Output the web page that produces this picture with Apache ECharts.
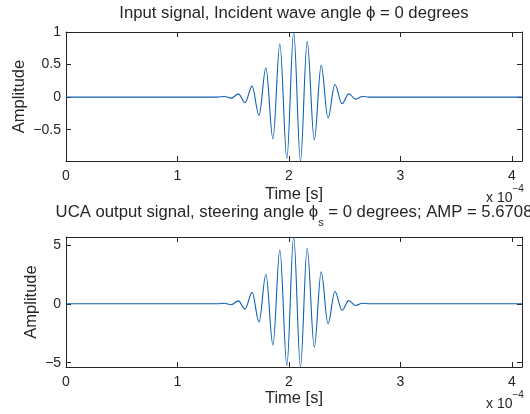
<!DOCTYPE html>
<html>
<head>
<meta charset="utf-8">
<script src="https://cdn.jsdelivr.net/npm/echarts@6/dist/echarts.min.js"></script>
<style>
  html, body { margin: 0; padding: 0; background: #fff; }
  #chart { width: 530px; height: 414px; }
</style>
</head>
<body>
<div id="chart"></div>
<script>
// Time in units of 1e-4 s (peaks and troughs of the tone burst, plus the flat ends)
const timeE4 = [0, 1.36, 1.42, 1.483, 1.546, 1.606, 1.669, 1.731, 1.793, 1.856, 1.918, 1.981,
  2.042, 2.103, 2.163, 2.227, 2.289, 2.350, 2.412, 2.476, 2.536, 2.598, 2.660, 2.72, 4.09];

// Input signal amplitude at those instants
const inputAmp = [0, 0, 0.01, -0.015, 0.05, -0.087, 0.17, -0.28, 0.45, -0.64, 0.82, -0.94,
  1.0, -0.98, 0.856, -0.656, 0.487, -0.32, 0.195, -0.10, 0.05, -0.03, 0.01, 0, 0];

// Peak gain of the array output
const AMP = 5.6708;

// Array output amplitude at the same instants
const outputAmp = [0, 0, 0.05, -0.08, 0.25, -0.45, 0.97, -1.55, 2.51, -3.5, 4.58, -5.25,
  AMP, -5.37, 4.72, -3.68, 2.71, -1.7, 1.04, -0.55, 0.27, -0.15, 0.05, 0, 0];

const xTicks = [0, 1, 2, 3, 4];
const yTicksTop = [-0.5, 0, 0.5, 1];
const yTicksBottom = [-5, 0, 5];

const FONT = "'Liberation Sans', Arial, Helvetica, sans-serif";
const INK = '#262626';
const LINE = '#1061B0';

const minus = v => String(v).replace('-', '\u2212');

function xAxisFor(grid, pos, labels, gap) {
  return {
    type: 'value', gridIndex: grid, position: pos, min: 0, max: 4.09,
    axisLine: { show: true, onZero: false, lineStyle: { color: INK, width: 1 } },
    axisTick: { show: true, inside: true, length: 5, customValues: xTicks, lineStyle: { color: INK } },
    axisLabel: { show: labels, customValues: xTicks, color: INK, fontSize: 14, fontFamily: FONT, margin: 8 },
    splitLine: { show: false },
    name: labels ? 'Time [s]' : '', nameLocation: 'middle', nameGap: gap, nameMoveOverlap: false,
    nameTextStyle: { color: INK, fontSize: 16.5, fontFamily: FONT }
  };
}

function yAxisFor(grid, pos, labels, min, max, ticks, gap) {
  return {
    type: 'value', gridIndex: grid, position: pos, min: min, max: max,
    axisLine: { show: true, onZero: false, lineStyle: { color: INK, width: 1 } },
    axisTick: { show: true, inside: true, length: 5, customValues: ticks, lineStyle: { color: INK } },
    axisLabel: { show: labels, customValues: ticks, color: INK, fontSize: 14, fontFamily: FONT, margin: 5, formatter: minus },
    splitLine: { show: false },
    name: labels ? 'Amplitude' : '', nameLocation: 'middle', nameRotate: 90, nameGap: gap, nameMoveOverlap: false,
    nameTextStyle: { color: INK, fontSize: 16.5, fontFamily: FONT }
  };
}

function pairs(xs, ys) { return xs.map((x, i) => [x, ys[i]]); }

const chart = echarts.init(document.getElementById('chart'), null, { renderer: 'canvas' });

const sub = { fontSize: 11, fontFamily: FONT, fill: INK, padding: [22, 0, 0, 0] };
const base = { fontSize: 16.7, fontFamily: FONT, fill: INK };
const sup = { fontSize: 10, fontFamily: FONT, fill: INK, padding: [0, 0, 18, 0] };
const small = { fontSize: 14, fontFamily: FONT, fill: INK };

chart.setOption({
  animation: false,
  backgroundColor: '#fff',
  grid: [
    { left: 66, top: 32, width: 456, height: 129 },
    { left: 66, top: 237, width: 456, height: 130 }
  ],
  xAxis: [
    xAxisFor(0, 'bottom', true, 25),
    xAxisFor(0, 'top', false, 0),
    xAxisFor(1, 'bottom', true, 23),
    xAxisFor(1, 'top', false, 0)
  ],
  yAxis: [
    yAxisFor(0, 'left', true, -0.98, 1, yTicksTop, 38),
    yAxisFor(0, 'right', false, -0.98, 1, yTicksTop, 0),
    yAxisFor(1, 'left', true, -5.37, AMP, yTicksBottom, 26),
    yAxisFor(1, 'right', false, -5.37, AMP, yTicksBottom, 0)
  ],
  series: [
    {
      type: 'line', xAxisIndex: 0, yAxisIndex: 0, data: pairs(timeE4, inputAmp),
      showSymbol: false, smooth: 0.36, smoothMonotone: 'x',
      lineStyle: { color: LINE, width: 1.1 }, itemStyle: { color: LINE }
    },
    {
      type: 'line', xAxisIndex: 2, yAxisIndex: 2, data: pairs(timeE4, outputAmp),
      showSymbol: false, smooth: 0.36, smoothMonotone: 'x',
      lineStyle: { color: LINE, width: 1.1 }, itemStyle: { color: LINE }
    }
  ],
  graphic: [
    {
      type: 'text', x: 294, y: 13.5,
      style: { text: 'Input signal, Incident wave angle \u03D5 = 0 degrees', font: '16.7px ' + FONT,
        fill: INK, textAlign: 'center', textVerticalAlign: 'middle' }
    },
    {
      type: 'text', x: 294, y: 212,
      style: {
        text: '{b|UCA output signal, steering angle \u03D5}{s|s}{b| = 0 degrees; AMP = ' + AMP + '}',
        rich: { b: base, s: sub }, textAlign: 'center', textVerticalAlign: 'middle'
      }
    },
    {
      type: 'text', x: 486, y: 198,
      style: { text: '{a|x 10}{p|\u22124}', rich: { a: small, p: sup }, textAlign: 'left', textVerticalAlign: 'middle' }
    },
    {
      type: 'text', x: 486, y: 404,
      style: { text: '{a|x 10}{p|\u22124}', rich: { a: small, p: sup }, textAlign: 'left', textVerticalAlign: 'middle' }
    }
  ]
});
</script>
</body>
</html>
